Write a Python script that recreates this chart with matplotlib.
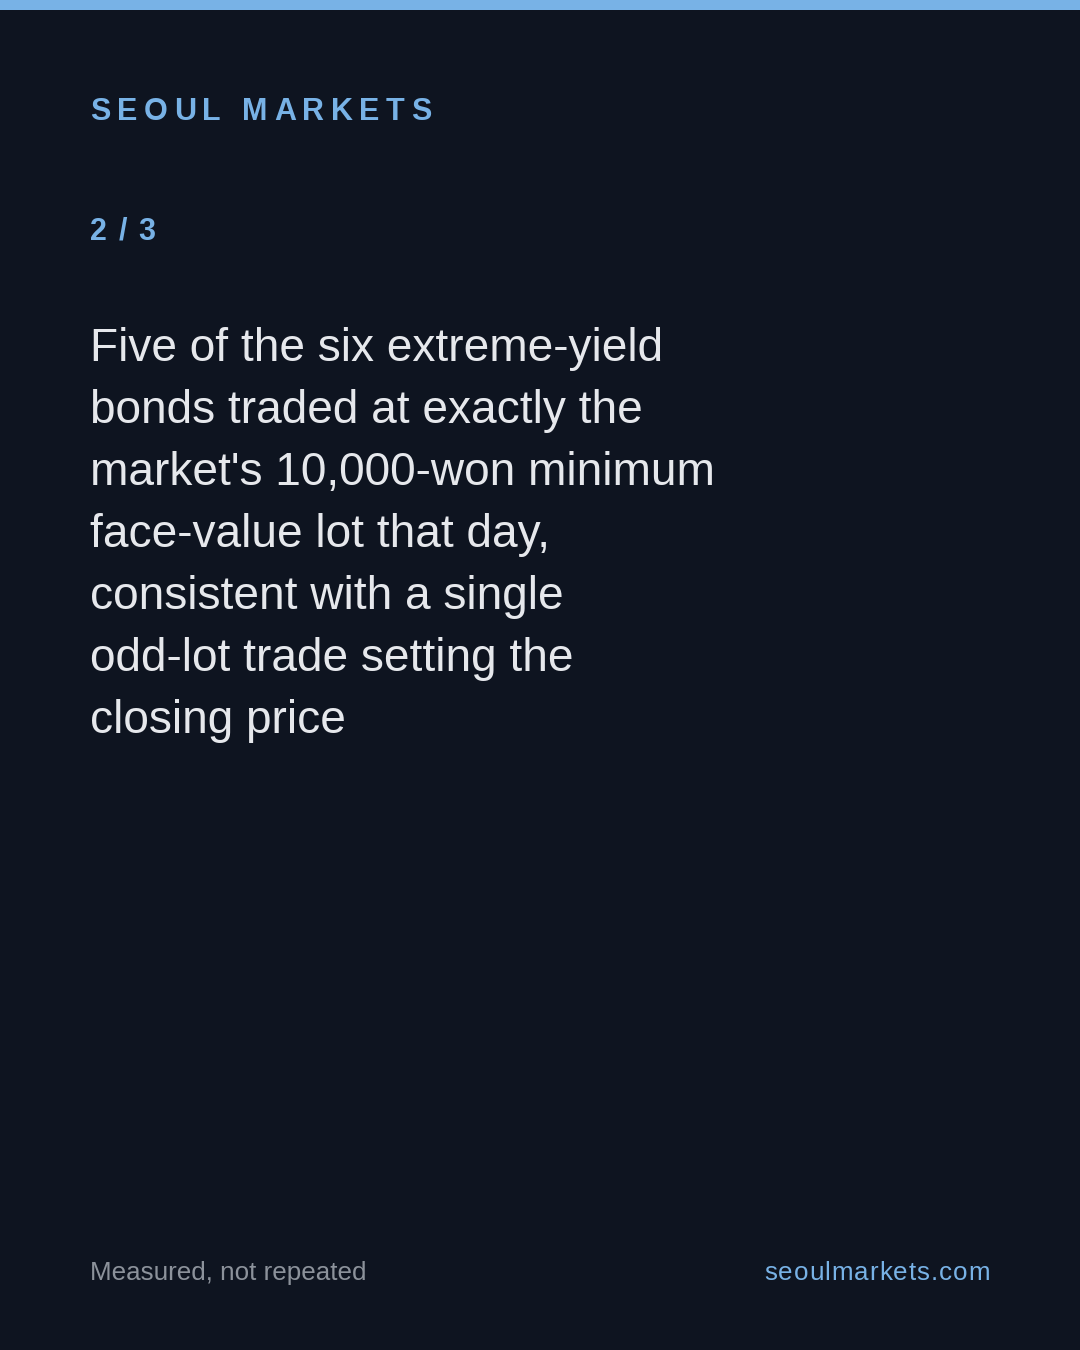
import matplotlib
matplotlib.use("Agg")
import matplotlib.pyplot as plt

W, H = 1080, 1350
BG = "#0e1420"
ACCENT = "#78b2e6"
BODY = "#e6e8ec"
MUTED = "#8c929b"

brand = "SEOUL MARKETS"
page = "2 / 3"
body_lines = [
    "Five of the six extreme-yield",
    "bonds traded at exactly the",
    "market's 10,000-won minimum",
    "face-value lot that day,",
    "consistent with a single",
    "odd-lot trade setting the",
    "closing price",
]
footer_left = "Measured, not repeated"
footer_right = "seoulmarkets.com"

plt.rcParams["font.family"] = ["Liberation Sans", "DejaVu Sans"]

fig = plt.figure(figsize=(W / 100, H / 100), dpi=100, facecolor=BG)
fig.patches.append(plt.Rectangle((0, 1 - 10 / H), 1, 10 / H, transform=fig.transFigure,
                                 facecolor=ACCENT, edgecolor="none"))
fig.canvas.draw()
renderer = fig.canvas.get_renderer()


def fx(px):
    return px / W


def fy(py):
    return 1 - py / H


def char_w(ch, size, weight):
    if ch == " ":
        return size * 100 / 72 * 0.278
    t = fig.text(0, 0, ch, fontsize=size, fontweight=weight)
    w = t.get_window_extent(renderer).width
    t.remove()
    return w


def spaced(x0, ybase, s, size, color, tracking_px, weight="bold", align="left"):
    widths = [char_w(ch, size, weight) for ch in s]
    total = sum(widths) + tracking_px * (len(s) - 1)
    x = x0 if align == "left" else x0 - total
    for ch, w in zip(s, widths):
        if ch != " ":
            fig.text(fx(x), fy(ybase), ch, fontsize=size, color=color,
                     fontweight=weight, va="baseline", ha="left")
        x += w + tracking_px


spaced(90, 120, brand, 22, ACCENT, 6.4)
spaced(90, 240, page, 22, ACCENT, 1.6)

for i, line in enumerate(body_lines):
    fig.text(fx(90), fy(361 + 62 * i), line, fontsize=33.1, color=BODY,
             va="baseline", ha="left")

fig.text(fx(90), fy(1280), footer_left, fontsize=18.7, color=MUTED,
         va="baseline", ha="left")
spaced(990, 1280, footer_right, 18.7, ACCENT, 1.0, weight="normal", align="right")

fig.savefig("out.png", dpi=100, facecolor=BG)
